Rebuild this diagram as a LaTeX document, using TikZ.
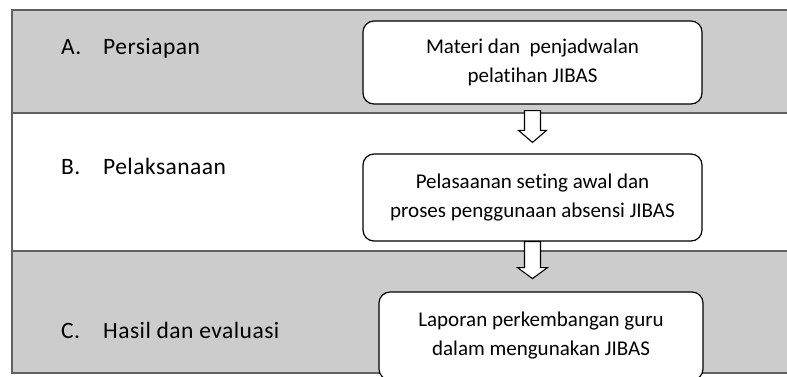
\documentclass[tikz,border=0pt]{standalone}
\usepackage{fontspec}
\setmainfont{Carlito}[Ligatures=NoCommon]
\usetikzlibrary{calc}
\definecolor{bandgray}{HTML}{CCCCCC}
\definecolor{framegray}{HTML}{606060}
\newcommand{\lblfont}{\fontsize{23.5}{28}\selectfont\addfontfeature{LetterSpace=2}}
\newcommand{\boxfont}{\fontsize{21}{29}\selectfont}
\begin{document}
\begin{tikzpicture}[x=1pt,y=-1pt,
  sep/.style={draw=framegray,line width=2.2pt},
  procbox/.style={draw=black,fill=white,rounded corners=11pt,line width=1.2pt,align=center,font=\boxfont,inner sep=0pt},
  lbl/.style={anchor=base west,font=\lblfont,inner sep=0pt},
  blockarrow/.style={draw=black,fill=white,line width=1.1pt,line join=miter}]
\useasboundingbox (0,0) rectangle (787,376);
\clip (0,0) rectangle (787,376);
% bands
\fill[bandgray] (12,10) rectangle (792,113);
\fill[bandgray] (12,251) rectangle (792,373);
\draw[sep] (792,10) -- (12,10) -- (12,373) -- (792,373);
\draw[sep] (12,113) -- (792,113);
\draw[sep] (12,251) -- (792,251);
% labels
\node[lbl] (la) at (61,54.5) {\makebox[42pt][l]{A.}Persiapan};
\node[lbl] (lb) at (61,174.5) {\makebox[42pt][l]{B.}Pelaksanaan};
\node[lbl] (lc) at (61,338.5) {\makebox[42pt][l]{C.}Hasil dan evaluasi};
% boxes
\node[procbox,minimum width=339pt,minimum height=83pt] (b1) at (532.5,62.5)
  {Materi dan\ \ penjadwalan\\pelatihan JIBAS};
\node[procbox,minimum width=339pt,minimum height=87pt] (b2) at (532.5,197.5)
  {Pelasaanan seting awal dan\\proses penggunaan absensi JIBAS};
\node[procbox,minimum width=324pt,minimum height=88pt] (b3) at (541,336)
  {Laporan perkembangan guru\\dalam mengunakan JIBAS};
% block arrows
\coordinate (a1s) at ($(b1.south)+(0,6)$);
\coordinate (a1t) at ($(b2.north)+(0,-11)$);
\coordinate (a2s) at (b2.south);
\coordinate (a2t) at ($(b2.south)+(0,37)$);
\draw[blockarrow] let \p1=(a1s), \p2=(a1t) in
  (\x1-8pt,\y1) -- (\x1+8pt,\y1) -- (\x1+8pt,\y2+12pt) -- (\x1+14pt,\y2+12pt)
  -- (\x2,\y2) -- (\x1-14pt,\y2+12pt) -- (\x1-8pt,\y2+12pt) -- cycle;
\draw[blockarrow] let \p1=(a2s), \p2=(a2t) in
  (\x1-8pt,\y1) -- (\x1+8pt,\y1) -- (\x1+8pt,\y2+11pt) -- (\x1+15pt,\y2+11pt)
  -- (\x2,\y2) -- (\x1-15pt,\y2+11pt) -- (\x1-8pt,\y2+11pt) -- cycle;
\end{tikzpicture}
\end{document}
